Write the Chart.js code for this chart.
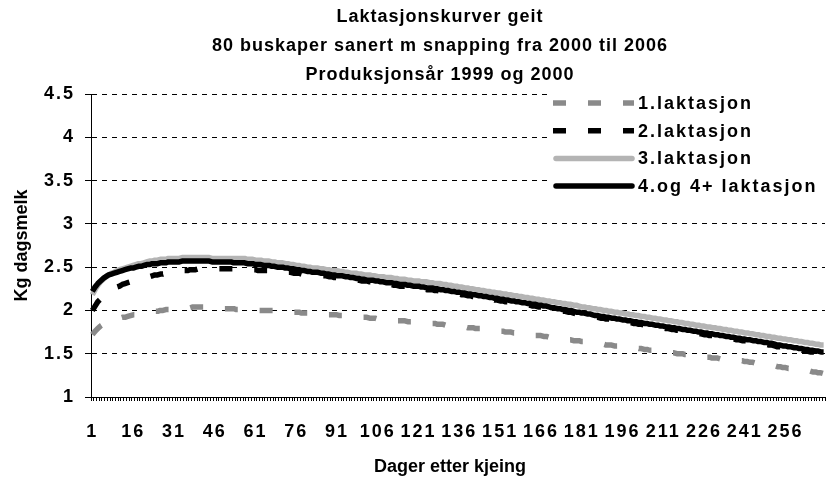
<!DOCTYPE html>
<html>
<head>
<meta charset="utf-8">
<script src="https://cdn.jsdelivr.net/npm/chart.js@4.4.0/dist/chart.umd.min.js"></script>
<style>
  html, body { margin: 0; padding: 0; background: #fff; }
</style>
</head>
<body>
<canvas id="myChart" width="828" height="483"></canvas>
<script>
const titleLines = [
  "Laktasjonskurver geit",
  "80 buskaper sanert m snapping fra 2000 til 2006",
  "Produksjonsår 1999 og 2000"
];
const yTitle = "Kg dagsmelk";
const xTitle = "Dager etter kjeing";
const seriesNames = ["1.laktasjon", "2.laktasjon", "3.laktasjon", "4.og 4+ laktasjon"];

// days after kidding, 1..270
const days = [];
for (let d = 1; d <= 270; d++) days.push(d);

const lakt1 = [
  1.72, 1.76, 1.79, 1.82, 1.84, 1.86, 1.87, 1.88, 1.89, 1.90,
  1.91, 1.92, 1.92, 1.93, 1.94, 1.95, 1.95, 1.96, 1.96, 1.97,
  1.97, 1.98, 1.98, 1.99, 1.99, 2.00, 2.00, 2.01, 2.01, 2.01,
  2.02, 2.02, 2.02, 2.03, 2.03, 2.03, 2.03, 2.04, 2.04, 2.04,
  2.04, 2.04, 2.04, 2.04, 2.03, 2.03, 2.03, 2.03, 2.02, 2.02,
  2.02, 2.02, 2.02, 2.01, 2.01, 2.01, 2.01, 2.01, 2.01, 2.00,
  2.00, 2.00, 2.00, 2.00, 2.00, 2.00, 2.00, 2.00, 1.99, 1.99,
  1.99, 1.99, 1.99, 1.98, 1.98, 1.98, 1.98, 1.97, 1.97, 1.97,
  1.97, 1.97, 1.96, 1.96, 1.96, 1.96, 1.95, 1.95, 1.95, 1.95,
  1.95, 1.94, 1.94, 1.94, 1.94, 1.93, 1.93, 1.93, 1.92, 1.92,
  1.92, 1.92, 1.91, 1.91, 1.91, 1.90, 1.90, 1.90, 1.90, 1.89,
  1.89, 1.89, 1.88, 1.88, 1.88, 1.88, 1.87, 1.87, 1.87, 1.87,
  1.87, 1.86, 1.86, 1.86, 1.85, 1.85, 1.85, 1.84, 1.84, 1.84,
  1.83, 1.83, 1.83, 1.82, 1.82, 1.82, 1.81, 1.81, 1.80, 1.80,
  1.80, 1.79, 1.79, 1.79, 1.78, 1.78, 1.77, 1.77, 1.77, 1.76,
  1.76, 1.76, 1.75, 1.75, 1.75, 1.74, 1.74, 1.74, 1.73, 1.73,
  1.73, 1.72, 1.72, 1.71, 1.71, 1.71, 1.70, 1.70, 1.69, 1.69,
  1.69, 1.68, 1.68, 1.67, 1.67, 1.66, 1.66, 1.65, 1.65, 1.65,
  1.64, 1.64, 1.63, 1.63, 1.62, 1.62, 1.62, 1.61, 1.61, 1.60,
  1.60, 1.60, 1.59, 1.59, 1.59, 1.58, 1.58, 1.58, 1.57, 1.57,
  1.57, 1.56, 1.56, 1.55, 1.55, 1.54, 1.54, 1.54, 1.53, 1.53,
  1.52, 1.52, 1.52, 1.51, 1.51, 1.50, 1.50, 1.50, 1.49, 1.49,
  1.48, 1.48, 1.48, 1.47, 1.47, 1.46, 1.46, 1.46, 1.45, 1.45,
  1.45, 1.44, 1.44, 1.44, 1.43, 1.43, 1.43, 1.42, 1.42, 1.42,
  1.41, 1.41, 1.40, 1.40, 1.39, 1.39, 1.38, 1.38, 1.37, 1.37,
  1.36, 1.36, 1.35, 1.35, 1.34, 1.34, 1.33, 1.33, 1.32, 1.32,
  1.31, 1.31, 1.30, 1.30, 1.30, 1.29, 1.29, 1.28, 1.28, 1.27
];

const lakt2 = [
  2.00, 2.05, 2.10, 2.13, 2.16, 2.19, 2.21, 2.23, 2.25, 2.27,
  2.28, 2.30, 2.31, 2.32, 2.33, 2.34, 2.35, 2.36, 2.37, 2.38,
  2.39, 2.39, 2.40, 2.41, 2.41, 2.42, 2.42, 2.43, 2.43, 2.44,
  2.44, 2.45, 2.45, 2.46, 2.46, 2.46, 2.47, 2.47, 2.47, 2.48,
  2.48, 2.48, 2.48, 2.48, 2.48, 2.48, 2.48, 2.48, 2.48, 2.48,
  2.48, 2.48, 2.48, 2.48, 2.48, 2.48, 2.47, 2.47, 2.47, 2.47,
  2.47, 2.46, 2.46, 2.46, 2.46, 2.46, 2.46, 2.46, 2.45, 2.45,
  2.45, 2.44, 2.44, 2.44, 2.43, 2.43, 2.43, 2.42, 2.42, 2.42,
  2.42, 2.41, 2.41, 2.41, 2.40, 2.40, 2.40, 2.39, 2.39, 2.38,
  2.38, 2.38, 2.37, 2.37, 2.36, 2.36, 2.36, 2.35, 2.35, 2.34,
  2.34, 2.34, 2.33, 2.33, 2.32, 2.32, 2.31, 2.31, 2.31, 2.30,
  2.30, 2.29, 2.29, 2.28, 2.28, 2.28, 2.27, 2.27, 2.26, 2.26,
  2.26, 2.25, 2.25, 2.24, 2.24, 2.24, 2.23, 2.23, 2.22, 2.22,
  2.21, 2.21, 2.20, 2.20, 2.19, 2.19, 2.18, 2.18, 2.17, 2.17,
  2.16, 2.16, 2.15, 2.15, 2.14, 2.14, 2.13, 2.13, 2.12, 2.12,
  2.11, 2.11, 2.10, 2.10, 2.09, 2.09, 2.08, 2.08, 2.07, 2.07,
  2.06, 2.06, 2.05, 2.05, 2.04, 2.04, 2.03, 2.03, 2.02, 2.01,
  2.01, 2.00, 2.00, 1.99, 1.99, 1.98, 1.98, 1.97, 1.96, 1.96,
  1.95, 1.95, 1.94, 1.94, 1.93, 1.92, 1.92, 1.91, 1.91, 1.90,
  1.90, 1.89, 1.89, 1.88, 1.88, 1.87, 1.87, 1.86, 1.86, 1.85,
  1.85, 1.84, 1.84, 1.83, 1.83, 1.82, 1.82, 1.81, 1.81, 1.80,
  1.80, 1.79, 1.79, 1.78, 1.78, 1.77, 1.77, 1.76, 1.76, 1.75,
  1.75, 1.74, 1.74, 1.73, 1.73, 1.72, 1.72, 1.71, 1.71, 1.70,
  1.70, 1.69, 1.69, 1.68, 1.68, 1.67, 1.67, 1.66, 1.66, 1.65,
  1.65, 1.64, 1.64, 1.63, 1.63, 1.62, 1.62, 1.61, 1.61, 1.60,
  1.60, 1.59, 1.58, 1.58, 1.57, 1.57, 1.56, 1.56, 1.55, 1.55,
  1.54, 1.54, 1.53, 1.53, 1.52, 1.52, 1.51, 1.51, 1.50, 1.50
];

const lakt3 = [
  2.18, 2.24, 2.29, 2.33, 2.36, 2.39, 2.41, 2.43, 2.44, 2.46,
  2.47, 2.48, 2.49, 2.50, 2.51, 2.52, 2.53, 2.54, 2.54, 2.55,
  2.56, 2.57, 2.57, 2.58, 2.58, 2.59, 2.59, 2.59, 2.60, 2.60,
  2.60, 2.60, 2.60, 2.61, 2.61, 2.61, 2.61, 2.61, 2.61, 2.61,
  2.61, 2.61, 2.61, 2.61, 2.60, 2.60, 2.60, 2.60, 2.60, 2.60,
  2.60, 2.60, 2.60, 2.60, 2.60, 2.60, 2.60, 2.59, 2.59, 2.59,
  2.58, 2.58, 2.58, 2.57, 2.57, 2.57, 2.56, 2.56, 2.55, 2.55,
  2.55, 2.54, 2.54, 2.53, 2.53, 2.52, 2.52, 2.51, 2.51, 2.50,
  2.50, 2.49, 2.49, 2.49, 2.48, 2.48, 2.47, 2.47, 2.46, 2.46,
  2.46, 2.45, 2.45, 2.44, 2.44, 2.43, 2.43, 2.43, 2.42, 2.42,
  2.41, 2.41, 2.41, 2.40, 2.40, 2.39, 2.39, 2.39, 2.38, 2.38,
  2.38, 2.37, 2.37, 2.36, 2.36, 2.36, 2.35, 2.35, 2.34, 2.34,
  2.34, 2.33, 2.33, 2.33, 2.32, 2.32, 2.31, 2.31, 2.31, 2.30,
  2.30, 2.29, 2.29, 2.28, 2.28, 2.27, 2.27, 2.26, 2.26, 2.25,
  2.25, 2.24, 2.24, 2.23, 2.23, 2.22, 2.22, 2.21, 2.21, 2.20,
  2.20, 2.19, 2.19, 2.18, 2.18, 2.17, 2.17, 2.16, 2.16, 2.15,
  2.15, 2.14, 2.14, 2.13, 2.13, 2.12, 2.12, 2.11, 2.11, 2.10,
  2.10, 2.09, 2.09, 2.08, 2.08, 2.07, 2.07, 2.06, 2.06, 2.05,
  2.04, 2.04, 2.03, 2.03, 2.02, 2.02, 2.01, 2.01, 2.00, 2.00,
  1.99, 1.99, 1.98, 1.98, 1.97, 1.97, 1.96, 1.96, 1.95, 1.95,
  1.94, 1.94, 1.93, 1.93, 1.92, 1.92, 1.91, 1.91, 1.90, 1.90,
  1.89, 1.89, 1.88, 1.88, 1.87, 1.87, 1.86, 1.86, 1.85, 1.85,
  1.84, 1.84, 1.83, 1.83, 1.82, 1.82, 1.81, 1.81, 1.80, 1.80,
  1.79, 1.79, 1.78, 1.78, 1.77, 1.77, 1.76, 1.76, 1.75, 1.75,
  1.74, 1.74, 1.73, 1.73, 1.72, 1.72, 1.71, 1.71, 1.70, 1.70,
  1.69, 1.69, 1.68, 1.68, 1.67, 1.67, 1.66, 1.66, 1.65, 1.65,
  1.64, 1.64, 1.63, 1.63, 1.62, 1.62, 1.61, 1.61, 1.60, 1.60
];

const lakt4 = [
  2.22, 2.27, 2.31, 2.34, 2.37, 2.39, 2.41, 2.42, 2.43, 2.44,
  2.45, 2.46, 2.47, 2.48, 2.49, 2.49, 2.50, 2.51, 2.51, 2.52,
  2.53, 2.53, 2.54, 2.54, 2.54, 2.55, 2.55, 2.55, 2.56, 2.56,
  2.56, 2.56, 2.56, 2.57, 2.57, 2.57, 2.57, 2.57, 2.57, 2.57,
  2.57, 2.57, 2.57, 2.57, 2.56, 2.56, 2.56, 2.56, 2.56, 2.56,
  2.56, 2.56, 2.55, 2.55, 2.55, 2.55, 2.55, 2.54, 2.54, 2.54,
  2.53, 2.53, 2.53, 2.52, 2.52, 2.52, 2.51, 2.51, 2.50, 2.50,
  2.50, 2.49, 2.49, 2.48, 2.48, 2.47, 2.47, 2.46, 2.46, 2.45,
  2.45, 2.44, 2.44, 2.44, 2.43, 2.43, 2.42, 2.42, 2.41, 2.41,
  2.40, 2.40, 2.40, 2.39, 2.39, 2.38, 2.38, 2.37, 2.37, 2.36,
  2.36, 2.35, 2.35, 2.35, 2.34, 2.34, 2.33, 2.33, 2.32, 2.32,
  2.32, 2.31, 2.31, 2.30, 2.30, 2.30, 2.29, 2.29, 2.28, 2.28,
  2.28, 2.27, 2.27, 2.26, 2.26, 2.26, 2.25, 2.25, 2.24, 2.24,
  2.23, 2.23, 2.22, 2.22, 2.21, 2.21, 2.20, 2.20, 2.19, 2.19,
  2.18, 2.18, 2.17, 2.17, 2.16, 2.16, 2.15, 2.15, 2.14, 2.14,
  2.13, 2.13, 2.12, 2.12, 2.11, 2.11, 2.10, 2.10, 2.09, 2.09,
  2.08, 2.08, 2.07, 2.07, 2.06, 2.06, 2.05, 2.05, 2.04, 2.03,
  2.03, 2.02, 2.02, 2.01, 2.01, 2.00, 2.00, 1.99, 1.98, 1.98,
  1.97, 1.97, 1.96, 1.96, 1.95, 1.94, 1.94, 1.93, 1.93, 1.92,
  1.92, 1.91, 1.91, 1.90, 1.90, 1.89, 1.89, 1.88, 1.88, 1.87,
  1.87, 1.86, 1.86, 1.85, 1.85, 1.84, 1.84, 1.83, 1.83, 1.82,
  1.82, 1.81, 1.81, 1.80, 1.80, 1.79, 1.79, 1.78, 1.78, 1.77,
  1.77, 1.76, 1.76, 1.75, 1.75, 1.74, 1.74, 1.73, 1.73, 1.72,
  1.72, 1.71, 1.71, 1.70, 1.70, 1.69, 1.69, 1.68, 1.68, 1.67,
  1.67, 1.66, 1.66, 1.65, 1.65, 1.64, 1.64, 1.63, 1.63, 1.62,
  1.62, 1.61, 1.60, 1.60, 1.59, 1.59, 1.58, 1.58, 1.57, 1.57,
  1.56, 1.56, 1.55, 1.55, 1.54, 1.54, 1.53, 1.53, 1.52, 1.52
];

const FONT = '"Liberation Sans", Arial, sans-serif';

// the original's text is set wide; tick labels get the same extra spacing
const spacing = {
  id: 'spacing',
  beforeLayout(chart) { chart.ctx.letterSpacing = '2px'; },
  beforeDraw(chart) { chart.ctx.letterSpacing = '2px'; }
};

// heading + axis titles
const texts = {
  id: 'texts',
  afterDraw(chart) {
    const ctx = chart.ctx;
    const area = chart.chartArea;
    ctx.save();
    ctx.fillStyle = '#000';
    ctx.textAlign = 'center';
    ctx.textBaseline = 'middle';
    ctx.font = 'bold 18px ' + FONT;
    ctx.letterSpacing = '1px';
    titleLines.forEach((t, i) => ctx.fillText(t, 440, 17 + i * 29));
    ctx.letterSpacing = '0px';
    ctx.fillText(xTitle, 450, 467);
    ctx.translate(22, (area.top + area.bottom) / 2);
    ctx.rotate(-Math.PI / 2);
    ctx.fillText(yTitle, 0, 0);
    ctx.restore();
  }
};

// legend sits inside the plot, top right, on a white box
const legendPlugin = {
  id: 'innerLegend',
  afterDraw(chart) {
    const ctx = chart.ctx;
    ctx.save();
    ctx.fillStyle = '#fff';
    ctx.fillRect(548, 86, 280, 114);
    chart.data.datasets.forEach((ds, i) => {
      const y = 103 + i * 27.7;
      const dashed = !!ds.borderDash;
      ctx.beginPath();
      ctx.setLineDash(ds.borderDash || []);
      ctx.lineCap = dashed ? 'butt' : 'round';
      ctx.lineWidth = ds.borderWidth;
      ctx.strokeStyle = ds.borderColor;
      ctx.moveTo(dashed ? 553 : 556, y);
      ctx.lineTo(dashed ? 634 : 632, y);
      ctx.stroke();
      ctx.setLineDash([]);
      ctx.fillStyle = '#000';
      ctx.font = 'bold 18px ' + FONT;
      ctx.letterSpacing = '2px';
      ctx.textAlign = 'left';
      ctx.textBaseline = 'middle';
      ctx.fillText(ds.label, 638, y + 1);
    });
    ctx.restore();
  }
};

new Chart(document.getElementById('myChart'), {
  type: 'line',
  data: {
    labels: days,
    datasets: [
      { label: seriesNames[0], data: lakt1, borderColor: '#8a8a8a', borderWidth: 5.5, borderDash: [13, 22], order: 4 },
      { label: seriesNames[1], data: lakt2, borderColor: '#000000', borderWidth: 5.5, borderDash: [13, 22], order: 3 },
      { label: seriesNames[2], data: lakt3, borderColor: '#b4b4b4', borderWidth: 5.5, order: 2 },
      { label: seriesNames[3], data: lakt4, borderColor: '#000000', borderWidth: 5.5, order: 1 }
    ]
  },
  options: {
    responsive: false,
    animation: false,
    events: [],
    elements: {
      point: { radius: 0 },
      line: { tension: 0, borderJoinStyle: 'round', borderCapStyle: 'butt' }
    },
    layout: { padding: { top: 94, right: 3, bottom: 0, left: 0 } },
    plugins: {
      legend: { display: false },
      title: { display: false },
      tooltip: { enabled: false }
    },
    scales: {
      x: {
        offset: true,
        afterFit: s => { s.height = 86; },
        grid: { display: true, drawOnChartArea: false, drawTicks: true, tickLength: 4, color: '#000', offset: true },
        border: { display: true, color: '#000', width: 1 },
        ticks: {
          autoSkip: false,
          maxRotation: 0,
          padding: 0,
          color: '#000',
          font: { family: FONT, size: 18, weight: 'bold', lineHeight: 3.44 },
          callback: function (val, index) {
            return index % 15 === 0 ? this.getLabelForValue(val) : '';
          }
        }
      },
      y: {
        min: 1,
        max: 4.5,
        afterFit: s => { s.width = 91; },
        ticks: {
          stepSize: 0.5,
          padding: 10,
          color: '#000',
          font: { family: FONT, size: 18, weight: 'bold' },
          callback: v => String(v)
        },
        grid: { color: '#000', lineWidth: 1, tickLength: 6, tickBorderDash: [] },
        border: { display: true, color: '#000', width: 1, dash: [5, 5] }
      }
    }
  },
  plugins: [spacing, texts, legendPlugin]
});
</script>
</body>
</html>
